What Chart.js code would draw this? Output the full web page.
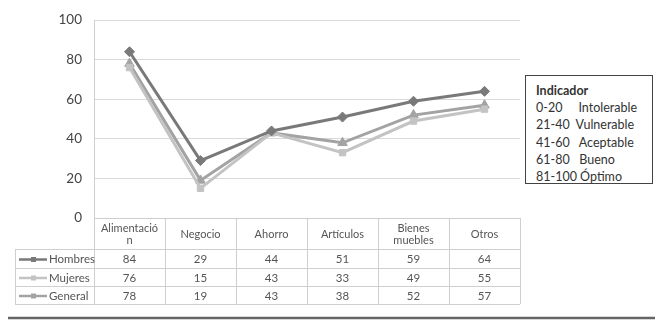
<!DOCTYPE html>
<html>
<head>
<meta charset="utf-8">
<script src="https://cdn.jsdelivr.net/npm/chart.js@4"></script>
<style>
  body { margin: 0; background: #ffffff; }
  #wrap { position: relative; width: 661px; height: 323px; }
  #indicador {
    position: absolute; left: 525px; top: 75px; width: 128px; height: 109px;
    border: 1px solid #444; background: #fff;
    font-family: Lato, sans-serif; font-size: 12.5px; line-height: 17.2px;
    color: #333; padding: 6px 0 0 10px; box-sizing: border-box; white-space: pre;
  }
  #indicador b { font-weight: bold; }
</style>
</head>
<body>
<div id="wrap">
  <canvas id="grafico" width="661" height="323"></canvas>
  <div id="indicador"></div>
</div>
<script>
// Datos del gráfico
const categorias = [["Alimentació", "n"], "Negocio", "Ahorro", "Artículos", ["Bienes", "muebles"], "Otros"];
const hombres = [84, 29, 44, 51, 59, 64];
const mujeres = [76, 15, 43, 33, 49, 55];
const general = [78, 19, 43, 38, 52, 57];
const ticksY = [0, 20, 40, 60, 80, 100];

// Cuadro del indicador
const rangos = ["0-20", "21-40", "41-60", "61-80", "81-100"];
const niveles = ["Intolerable", "Vulnerable", "Aceptable", "Bueno", "Óptimo"];
const espacios = ["     ", "  ", "   ", "   ", " "];

let html = "<b>Indicador</b>\n";
for (let i = 0; i < rangos.length; i++) {
  html += rangos[i] + espacios[i] + niveles[i] + (i < rangos.length - 1 ? "\n" : "");
}
document.getElementById("indicador").innerHTML = html;

const series = [
  { label: "Hombres", data: hombres, color: "#797979", estilo: "rectRot", radio: 5 },
  { label: "Mujeres", data: mujeres, color: "#c3c3c3", estilo: "rect", radio: 4.5 },
  { label: "General", data: general, color: "#a3a3a3", estilo: "triangle", radio: 5.5 }
];

// Tabla de datos debajo del gráfico
const tablaDatos = {
  id: "tablaDatos",
  beforeDraw(chart) {
    const ctx = chart.ctx;
    ctx.save();
    ctx.fillStyle = "#ffffff";
    ctx.fillRect(0, 0, chart.width, chart.height);
    ctx.restore();
  },
  afterDraw(chart) {
    const ctx = chart.ctx;
    const area = chart.chartArea;
    const xs = chart.scales.x;
    const ancho = (area.right - area.left) / categorias.length;
    const yCab = area.bottom + 31;
    const filas = [yCab, yCab + 19, yCab + 37, yCab + 55];
    const izq = 15;

    ctx.save();
    ctx.strokeStyle = "#cfcfcf";
    ctx.lineWidth = 1;

    // líneas horizontales
    ctx.beginPath();
    ctx.moveTo(area.left, area.bottom + 0.5);
    ctx.lineTo(area.right, area.bottom + 0.5);
    filas.forEach(function (y) {
      ctx.moveTo(izq, y + 0.5);
      ctx.lineTo(area.right, y + 0.5);
    });
    // divisiones verticales
    for (let i = 1; i <= categorias.length; i++) {
      const x = Math.round(area.left + i * ancho) + 0.5;
      ctx.moveTo(x, area.bottom);
      ctx.lineTo(x, filas[3]);
    }
    ctx.moveTo(izq + 0.5, filas[0]);
    ctx.lineTo(izq + 0.5, filas[3]);
    ctx.moveTo(area.left + 0.5, area.top);
    ctx.lineTo(area.left + 0.5, filas[3]);
    ctx.stroke();

    // cabeceras
    ctx.fillStyle = "#555";
    ctx.font = "11px Lato, sans-serif";
    ctx.textAlign = "center";
    ctx.textBaseline = "middle";
    categorias.forEach(function (cat, i) {
      const x = xs.getPixelForValue(i);
      if (Array.isArray(cat)) {
        ctx.fillText(cat[0], x, area.bottom + 10);
        ctx.fillText(cat[1], x, area.bottom + 22);
      } else {
        ctx.fillText(cat, x, area.bottom + 16);
      }
    });

    // filas de valores
    ctx.font = "11.5px Lato, sans-serif";
    series.forEach(function (s, f) {
      const yc = (filas[f] + filas[f + 1]) / 2 + 1;
      s.data.forEach(function (v, i) {
        ctx.fillStyle = "#555";
        ctx.textAlign = "center";
        ctx.fillText(String(v), xs.getPixelForValue(i), yc);
      });
      // clave de la leyenda
      ctx.strokeStyle = s.color;
      ctx.lineWidth = 2.5;
      ctx.beginPath();
      ctx.moveTo(19, yc);
      ctx.lineTo(47, yc);
      ctx.stroke();
      ctx.fillStyle = s.color;
      ctx.fillRect(31, yc - 2.5, 5, 5);
      ctx.fillStyle = "#555";
      ctx.textAlign = "left";
      ctx.fillText(s.label, 49, yc);
    });

    // línea inferior
    ctx.strokeStyle = "#666";
    ctx.lineWidth = 2.5;
    ctx.beginPath();
    ctx.moveTo(8, 318);
    ctx.lineTo(655, 318);
    ctx.stroke();
    ctx.restore();
  }
};

const config = {
  type: "line",
  data: {
    labels: categorias.map(function (c) { return Array.isArray(c) ? c.join("") : c; }),
    datasets: series.map(function (s) {
      return {
        label: s.label,
        data: s.data,
        borderColor: s.color,
        backgroundColor: s.color,
        borderWidth: 3,
        pointStyle: s.estilo,
        pointRadius: s.radio,
        pointBorderWidth: 1,
        tension: 0
      };
    })
  },
  options: {
    responsive: false,
    animation: false,
    layout: { padding: { left: 0, top: 17, right: 141, bottom: 105 } },
    plugins: { legend: { display: false }, tooltip: { enabled: false } },
    scales: {
      x: { display: false, offset: true },
      y: {
        min: 0,
        max: 100,
        afterBuildTicks: function (s) { s.ticks = ticksY.map(function (v) { return { value: v }; }); },
        afterFit: function (s) { s.width = 94; },
        grid: { color: "#d9d9d9", drawTicks: false },
        border: { display: false },
        ticks: {
          color: "#444",
          padding: 12,
          font: { family: "Lato, sans-serif", size: 13.5 }
        }
      }
    }
  },
  plugins: [tablaDatos]
};

new Chart(document.getElementById("grafico").getContext("2d"), config);
</script>
</body>
</html>
